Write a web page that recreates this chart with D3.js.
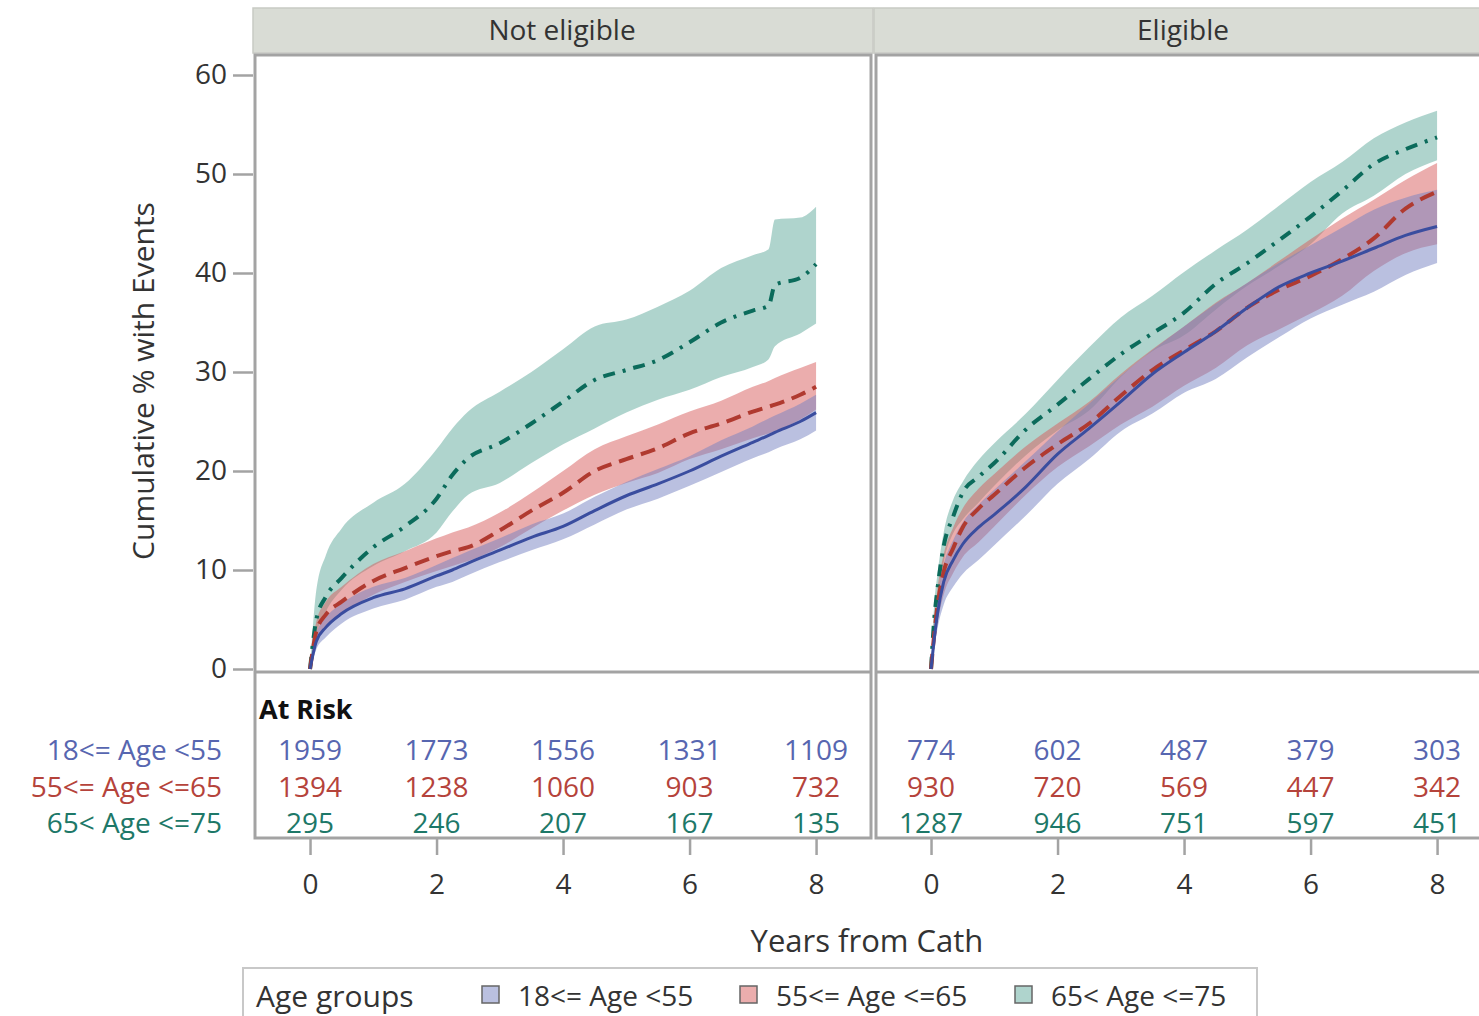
<!DOCTYPE html>
<html>
<head>
<meta charset="utf-8">
<script src="https://cdn.jsdelivr.net/npm/d3@7"></script>
<style>
  body { margin: 0; background: #fff; }
  text { font-family: "Open Sans", sans-serif; }
</style>
</head>
<body>
<div id="chart"></div>
<script>
// Facets, groups and ticks
const panels = ['Not eligible', 'Eligible'];
const groups = ['18<= Age <55', '55<= Age <=65', '65< Age <=75'];
const xTicks = [0, 2, 4, 6, 8];
const yTicks = [0, 10, 20, 30, 40, 50, 60];

// Not eligible: time grid (years) and cumulative % (estimate, lower, upper)
const timeNE = [0, 0.1, 0.25, 0.5, 1, 1.5, 2, 2.25, 2.5, 3, 3.5, 4, 4.5, 5, 5.5, 6, 6.5, 7, 7.25, 7.35, 7.75, 8];
const neYoung = [0, 2.8, 4.2, 5.6, 7.2, 8.1, 9.4, 10.0, 10.7, 12.0, 13.3, 14.4, 16.0, 17.5, 18.7, 20.0, 21.5, 22.9, 23.6, 23.9, 25.0, 25.9];
const neYoungLo = [0, 2.0, 3.2, 4.6, 6.1, 7.0, 8.3, 8.8, 9.5, 10.8, 12.0, 13.1, 14.6, 16.1, 17.2, 18.5, 19.9, 21.3, 21.9, 22.2, 23.2, 24.1];
const neYoungHi = [0, 3.6, 5.2, 6.6, 8.3, 9.2, 10.5, 11.2, 11.9, 13.2, 14.6, 15.7, 17.4, 18.9, 20.2, 21.5, 23.1, 24.5, 25.3, 25.6, 26.8, 27.7];
const neMid = [0, 3.8, 5.5, 6.8, 8.9, 10.2, 11.4, 11.9, 12.3, 14.0, 16.0, 17.8, 20.0, 21.2, 22.3, 23.8, 24.8, 26.0, 26.5, 26.7, 27.7, 28.5];
const neMidLo = [0, 2.8, 4.3, 5.5, 7.5, 8.8, 9.9, 10.4, 10.9, 12.3, 14.2, 16.0, 17.6, 18.8, 19.8, 21.2, 22.2, 23.3, 23.8, 24.0, 25.2, 26.2];
const neMidHi = [0, 4.8, 6.8, 8.3, 10.6, 11.9, 13.2, 13.8, 14.3, 15.8, 17.8, 20.0, 22.2, 23.5, 24.7, 26.0, 27.1, 28.5, 29.1, 29.4, 30.4, 31.0];
const neOld = [0, 5.0, 7.3, 9.2, 12.3, 14.4, 17.2, 19.6, 21.3, 22.8, 24.8, 27.0, 29.2, 30.2, 31.2, 33.0, 35.0, 36.2, 36.7, 38.8, 39.5, 40.9];
const neOldLo = [0, 3.5, 5.8, 8.0, 10.4, 11.9, 13.8, 15.9, 17.6, 18.8, 20.8, 22.7, 24.3, 25.9, 27.2, 28.2, 29.5, 30.5, 31.3, 32.6, 33.9, 34.9];
const neOldHi = [0, 8.0, 11.5, 14.2, 16.8, 18.7, 22.2, 24.3, 26.0, 28.0, 30.0, 32.3, 34.6, 35.3, 36.6, 38.2, 40.5, 41.8, 42.4, 45.4, 45.6, 46.7];

// Eligible
const timeEl = [0, 0.05, 0.1, 0.2, 0.35, 0.5, 0.75, 1, 1.5, 2, 2.5, 3, 3.5, 4, 4.5, 5, 5.5, 6, 6.5, 7, 7.5, 8];
const elYoung = [0, 3.0, 5.5, 8.8, 11.0, 12.6, 14.3, 15.6, 18.4, 21.7, 24.3, 27.0, 29.8, 32.0, 34.1, 36.5, 38.6, 40.0, 41.2, 42.5, 43.8, 44.7];
const elYoungLo = [0, 2.0, 4.0, 6.5, 8.3, 9.6, 11.0, 12.5, 15.5, 18.7, 21.2, 24.0, 25.8, 27.9, 29.3, 31.5, 33.5, 35.4, 36.8, 38.1, 39.8, 41.0];
const elYoungHi = [0, 4.0, 7.0, 10.5, 13.0, 14.8, 16.6, 18.1, 21.0, 24.0, 26.8, 29.6, 32.2, 34.6, 36.9, 39.0, 41.0, 42.8, 44.6, 46.4, 47.6, 48.4];
const elMid = [0, 3.5, 6.3, 9.8, 12.2, 14.3, 16.2, 17.6, 20.4, 22.7, 24.8, 27.6, 30.2, 32.2, 34.1, 36.5, 38.3, 39.7, 41.4, 43.5, 46.5, 48.2];
const elMidLo = [0, 2.0, 4.5, 7.5, 9.7, 11.3, 12.8, 14.4, 17.6, 20.4, 22.5, 24.7, 26.5, 28.6, 30.4, 32.7, 34.3, 35.9, 37.7, 40.2, 42.0, 42.9];
const elMidHi = [0, 5.0, 8.0, 11.6, 14.3, 16.2, 18.2, 19.7, 22.5, 24.8, 27.0, 29.8, 32.3, 34.6, 37.0, 39.0, 41.2, 43.4, 45.5, 47.4, 49.4, 51.1];
const elOld = [0, 5.0, 8.0, 12.4, 15.4, 17.8, 19.4, 20.8, 24.2, 26.7, 29.3, 31.8, 33.9, 36.0, 38.9, 41.0, 43.3, 45.7, 48.3, 51.0, 52.5, 53.7];
const elOldLo = [0, 3.5, 6.5, 10.8, 13.7, 15.1, 16.8, 18.5, 21.6, 24.1, 26.1, 29.5, 32.1, 33.7, 36.3, 38.7, 40.7, 42.9, 46.0, 47.8, 50.0, 51.4];
const elOldHi = [0, 6.5, 9.5, 13.8, 17.1, 18.9, 21.1, 22.8, 25.8, 29.2, 32.5, 35.5, 37.7, 40.1, 42.3, 44.4, 46.8, 49.2, 51.2, 53.6, 55.2, 56.4];

// Numbers at risk at years 0,2,4,6,8
const riskNE = [[1959, 1773, 1556, 1331, 1109], [1394, 1238, 1060, 903, 732], [295, 246, 207, 167, 135]];
const riskEl = [[774, 602, 487, 379, 303], [930, 720, 569, 447, 342], [1287, 946, 751, 597, 451]];

const lineColors = ['#3a4d9f', '#b03a30', '#0b6b5b'];
const bandColors = ['#7582c2', '#d75c5c', '#5fa99b'];
const textColors = ['#5766b0', '#b5433b', '#1d7868'];
const dashes = [null, '15,8', '12,8,3,8'];

const width = 1479, height = 1016;
const panelW = 618;
const panelLeft = [255, 876];
const plotTop = 55, plotBottom = 672, riskBottom = 838;

const svg = d3.select('#chart').append('svg')
  .attr('width', width)
  .attr('height', height);

const y = d3.scaleLinear().domain([0, 60]).range([669, 75]);

const tables = [
  { name: panels[0], time: timeNE, risk: riskNE,
    series: [[neYoung, neYoungLo, neYoungHi], [neMid, neMidLo, neMidHi], [neOld, neOldLo, neOldHi]] },
  { name: panels[1], time: timeEl, risk: riskEl,
    series: [[elYoung, elYoungLo, elYoungHi], [elMid, elMidLo, elMidHi], [elOld, elOldLo, elOldHi]] }
];

tables.forEach((p, pi) => {
  const left = panelLeft[pi];
  const x = d3.scaleLinear().domain([-0.87, 8.9]).range([left, left + panelW]);
  const g = svg.append('g');

  // header strip
  g.append('rect')
    .attr('x', left - 2).attr('y', 8).attr('width', panelW + 2).attr('height', 45)
    .attr('fill', '#d9dcd5').attr('stroke', '#c8cac4').attr('stroke-width', 1.5);
  g.append('text')
    .attr('x', left + panelW / 2 - 2).attr('y', 29)
    .attr('text-anchor', 'middle').attr('dominant-baseline', 'central')
    .attr('font-size', 28).attr('fill', '#333')
    .text(p.name);

  // bands then lines
  const rows = p.time.map((t, i) => ({ t, i }));
  [2, 1, 0].forEach(k => {
    const s = p.series[k];
    const area = d3.area()
      .x(d => x(d.t))
      .y0(d => y(s[1][d.i]))
      .y1(d => y(s[2][d.i]))
      .curve(d3.curveMonotoneX);
    g.append('path').datum(rows)
      .attr('d', area)
      .attr('fill', bandColors[k])
      .attr('fill-opacity', 0.5);
  });
  [2, 1, 0].forEach(k => {
    const s = p.series[k];
    const line = d3.line()
      .x(d => x(d.t))
      .y(d => y(s[0][d.i]))
      .curve(d3.curveMonotoneX);
    g.append('path').datum(rows)
      .attr('d', line)
      .attr('fill', 'none')
      .attr('stroke', lineColors[k])
      .attr('stroke-width', k === 0 ? 3 : 4)
      .attr('stroke-dasharray', dashes[k]);
  });

  // frame
  g.append('rect')
    .attr('x', left).attr('y', plotTop).attr('width', panelW - 2).attr('height', riskBottom - plotTop)
    .attr('fill', 'none').attr('stroke', '#a3a3a3').attr('stroke-width', 3);
  g.append('line')
    .attr('x1', left).attr('x2', left + panelW - 2)
    .attr('y1', plotBottom).attr('y2', plotBottom)
    .attr('stroke', '#a3a3a3').attr('stroke-width', 3);

  // at risk table
  if (pi === 0) {
    g.append('text')
      .attr('x', left + 4).attr('y', 708)
      .attr('dominant-baseline', 'central')
      .attr('font-size', 27).attr('font-weight', 'bold').attr('fill', '#111')
      .text('At Risk');
  }
  p.risk.forEach((vals, k) => {
    g.selectAll(null)
      .data(vals)
      .enter().append('text')
      .attr('x', (d, i) => x(xTicks[i]))
      .attr('y', 749 + k * 36.5)
      .attr('text-anchor', 'middle').attr('dominant-baseline', 'central')
      .attr('font-size', 28).attr('fill', textColors[k])
      .text(d => d);
  });

  // x axis below the table
  const xAxis = d3.axisBottom(x).tickValues(xTicks).tickSize(16).tickPadding(19);
  const ax = g.append('g')
    .attr('transform', `translate(0,${riskBottom + 1})`)
    .call(xAxis);
  ax.select('.domain').remove();
  ax.selectAll('line').attr('stroke', '#a3a3a3').attr('stroke-width', 2.5);
  ax.selectAll('text').attr('font-size', 28).attr('fill', '#333')
    .attr('font-family', '"Open Sans", sans-serif');
});

// y axis
const yAxis = d3.axisLeft(y).tickValues(yTicks).tickSize(20).tickPadding(6);
const ay = svg.append('g')
  .attr('transform', `translate(${panelLeft[0] - 2},0)`)
  .call(yAxis);
ay.select('.domain').remove();
ay.selectAll('line').attr('stroke', '#a3a3a3').attr('stroke-width', 2.5);
ay.selectAll('text').attr('font-size', 28).attr('fill', '#333')
  .attr('font-family', '"Open Sans", sans-serif');

svg.append('text')
  .attr('transform', 'translate(142,381) rotate(-90)')
  .attr('text-anchor', 'middle').attr('dominant-baseline', 'central')
  .attr('font-size', 30).attr('fill', '#333')
  .text('Cumulative % with Events');

// group labels of the at risk table
svg.selectAll('.risk-label')
  .data(groups)
  .enter().append('text')
  .attr('class', 'risk-label')
  .attr('x', 222)
  .attr('y', (d, k) => 749 + k * 36.5)
  .attr('text-anchor', 'end').attr('dominant-baseline', 'central')
  .attr('font-size', 28)
  .attr('fill', (d, k) => textColors[k])
  .text(d => d);

svg.append('text')
  .attr('x', 867).attr('y', 940)
  .attr('text-anchor', 'middle').attr('dominant-baseline', 'central')
  .attr('font-size', 31).attr('fill', '#333')
  .text('Years from Cath');

// legend
const legend = svg.append('g');
legend.append('rect')
  .attr('x', 243).attr('y', 968).attr('width', 1014).attr('height', 60)
  .attr('fill', '#fff').attr('stroke', '#c8c8c8').attr('stroke-width', 2);
legend.append('text')
  .attr('x', 256).attr('y', 995)
  .attr('dominant-baseline', 'central')
  .attr('font-size', 30).attr('fill', '#333')
  .text('Age groups');
const legendX = [482, 740, 1015];
groups.forEach((gname, k) => {
  legend.append('rect')
    .attr('x', legendX[k]).attr('y', 986).attr('width', 17).attr('height', 17)
    .attr('fill', bandColors[k]).attr('fill-opacity', 0.5)
    .attr('stroke', '#666').attr('stroke-width', 1.5);
  legend.append('text')
    .attr('x', legendX[k] + 36).attr('y', 995)
    .attr('dominant-baseline', 'central')
    .attr('font-size', 28).attr('fill', '#333')
    .text(gname);
});
</script>
</body>
</html>
